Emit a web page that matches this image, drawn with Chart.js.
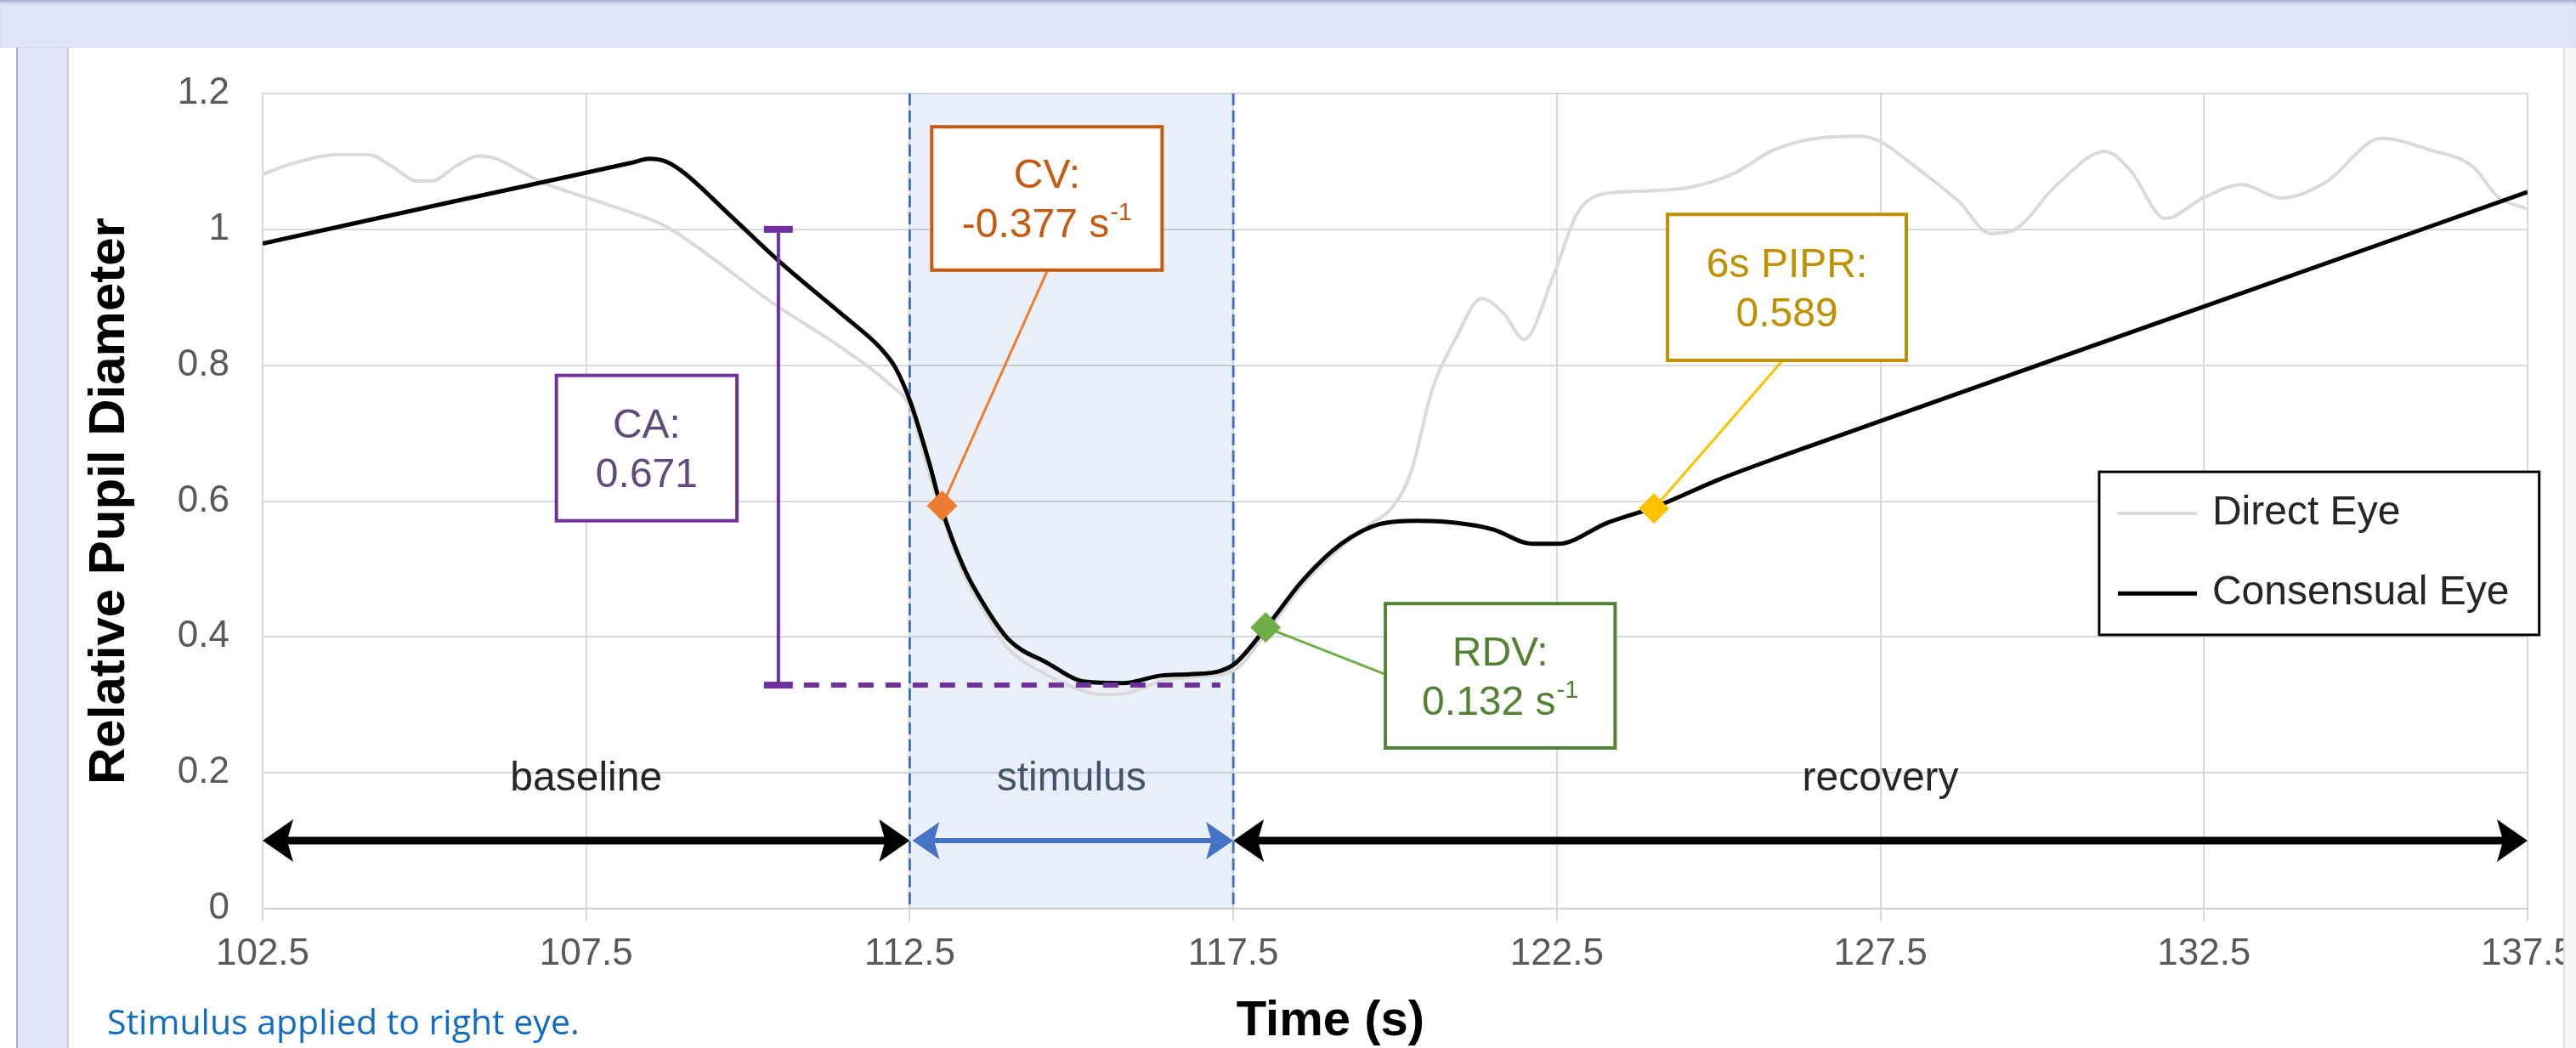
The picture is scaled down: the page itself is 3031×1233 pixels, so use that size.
<!DOCTYPE html>
<html>
<head>
<meta charset="utf-8">
<script src="https://cdn.jsdelivr.net/npm/chart.js@4.4.1/dist/chart.umd.min.js"></script>
<style>
  html, body { margin: 0; padding: 0; background: #ffffff; }
  body { width: 3031px; height: 1233px; position: relative; overflow: hidden; }
  .banda-superior { position: absolute; left: 0; top: 0; width: 3031px; height: 55px; background: #dfe4fa;
    box-shadow: inset 0 5px 4px -3px rgba(80, 90, 130, 0.5); border-bottom: 1px solid #d2d8ef; }
  .franja-izquierda { position: absolute; left: 19px; top: 56px; width: 58px; height: 1177px; background: #dfe4fa;
    border-left: 2px solid #a9aec4; border-right: 2px solid #c6cbde; }
  .borde-derecho { position: absolute; left: 3016px; top: 56px; width: 15px; height: 1177px; background: #f6f6f6;
    border-left: 2px solid #dedede; z-index: 2; }
  #grafico { position: absolute; left: 0; top: 0; z-index: 1; }
  .nota { position: absolute; left: 126px; top: 1181px; font: 41px/41px "Open Sans", sans-serif; color: #116dc4;
    z-index: 3; white-space: nowrap; }
</style>
</head>
<body>
<div class="banda-superior"></div>
<div class="franja-izquierda"></div>
<canvas id="grafico" width="3031" height="1233"></canvas>
<div class="borde-derecho"></div>
<div class="nota">Stimulus applied to right eye.</div>
<script>
// Valores (tiempo en s, diámetro relativo)
const tiempoDirecto = [102.5, 102.93, 103.68, 104.14, 104.51, 104.89, 105.11, 105.5, 105.84, 106.1, 106.5, 106.8,
  107.4, 108.1, 108.74, 109.26, 110.39, 111.52, 112.2, 112.51, 112.8, 113.3, 113.7, 114.0, 114.6, 115.2, 115.5,
  115.9, 116.4, 117.0, 117.5, 118.0, 118.6, 119.2, 119.6, 119.94, 120.24, 120.58, 120.93, 121.34, 121.69, 121.99,
  122.46, 122.8, 123.13, 123.72, 124.56, 125.25, 125.85, 126.6, 127.2, 127.5, 128.11, 128.71, 129.2, 129.54,
  130.23, 130.97, 131.36, 131.9, 132.48, 133.09, 133.69, 134.39, 135.24, 135.99, 136.66, 137.04, 137.5];
const diametroDirecto = [1.081, 1.096, 1.11, 1.11, 1.092, 1.071, 1.071, 1.094, 1.108, 1.104, 1.085, 1.07,
  1.05, 1.028, 1.004, 0.971, 0.891, 0.821, 0.771, 0.737, 0.64, 0.5, 0.43, 0.385, 0.345, 0.32, 0.315,
  0.318, 0.335, 0.342, 0.35, 0.405, 0.48, 0.535, 0.565, 0.589, 0.641, 0.766, 0.838, 0.898, 0.875, 0.838,
  0.935, 1.021, 1.05, 1.056, 1.062, 1.083, 1.117, 1.135, 1.137, 1.129, 1.087, 1.041, 0.994, 0.998,
  1.066, 1.115, 1.087, 1.016, 1.046, 1.066, 1.046, 1.07, 1.134, 1.117, 1.092, 1.048, 1.03];

const tiempoConsensual = [102.5, 105.5, 108.2, 108.47, 108.7, 108.96, 109.72, 110.47, 111.45, 112.05, 112.28,
  112.51, 112.81, 112.98, 113.33, 113.69, 114.04, 114.62, 115.21, 115.79, 116.38, 116.83, 117.3, 117.53, 118.0,
  118.59, 119.17, 119.76, 120.35, 120.93, 121.52, 122.11, 122.52, 123.28, 124.01, 125.04, 126.0, 132.49, 137.5];
const diametroConsensual = [0.979, 1.042, 1.098, 1.104, 1.101, 1.087, 1.021, 0.954, 0.875, 0.825, 0.796,
  0.746, 0.653, 0.593, 0.503, 0.441, 0.395, 0.362, 0.334, 0.332, 0.343, 0.345, 0.35, 0.361, 0.413,
  0.485, 0.537, 0.566, 0.571, 0.568, 0.558, 0.537, 0.537, 0.568, 0.591, 0.633, 0.667, 0.886, 1.055];

const ticksX = [102.5, 107.5, 112.5, 117.5, 122.5, 127.5, 132.5, 137.5];
const ticksY = [0, 0.2, 0.4, 0.6, 0.8, 1, 1.2];

// Fases del registro
const fases = ["baseline", "stimulus", "recovery"];
const faseInicio = [102.5, 112.5, 117.5];
const faseFin = [112.5, 117.5, 137.5];
const estimulo = [112.5, 117.5];

// Métricas marcadas sobre la curva consensual
const metricas = ["CV", "CA", "RDV", "6s PIPR"];
const valoresMetricas = ["-0.377", "0.671", "0.132", "0.589"];
const unidadesMetricas = ["s", "", "s", ""];
const exponentesMetricas = ["-1", "", "-1", ""];
const marcadorT = [113.0, 118.0, 124.0];
const marcadorV = [0.593, 0.414, 0.589];
// Amplitud de constricción: de 1 al mínimo
const caTiempo = 110.47;
const caMax = 1.0;
const caMin = 0.329;
const caFin = 117.3;

const FUENTE = "'Liberation Sans', Arial, sans-serif";

// Posición de cada cuadro de texto en unidades de los ejes
const cajas = [
  { metrica: 0, t0: 112.84, t1: 116.4, v0: 1.151, v1: 0.94, borde: "#c55a11", texto: "#c55a11",
    guia: "#ed7d31", desde: [114.63, 0.94], marcador: 0 },
  { metrica: 1, t0: 107.04, t1: 109.83, v0: 0.785, v1: 0.571, borde: "#7030a0", texto: "#604a7b" },
  { metrica: 2, t0: 119.85, t1: 123.4, v0: 0.449, v1: 0.2365, borde: "#548235", texto: "#548235",
    guia: "#70ad47", desde: [119.85, 0.345], marcador: 1 },
  { metrica: 3, t0: 124.21, t1: 127.9, v0: 1.022, v1: 0.807, borde: "#bf9000", texto: "#bf9000",
    guia: "#ffc000", desde: [125.99, 0.807], marcador: 2 },
];
const coloresMarcador = ["#ed7d31", "#70ad47", "#ffc000"];

// Leyenda dibujada dentro del área del gráfico
const leyendaCaja = { t0: 130.88, t1: 137.68, v0: 0.643, v1: 0.403, filas: [0.582, 0.464] };

function puntos(ts, vs) {
  return ts.map((t, i) => ({ x: t, y: vs[i] }));
}

function flecha(ctx, x0, x1, yy, color, grosor, largo, medio) {
  ctx.strokeStyle = color;
  ctx.fillStyle = color;
  ctx.lineWidth = grosor;
  ctx.beginPath();
  ctx.moveTo(x0 + largo * 0.7, yy);
  ctx.lineTo(x1 - largo * 0.7, yy);
  ctx.stroke();
  ctx.beginPath();
  ctx.moveTo(x0, yy);
  ctx.lineTo(x0 + largo, yy - medio);
  ctx.lineTo(x0 + largo * 0.8, yy);
  ctx.lineTo(x0 + largo, yy + medio);
  ctx.closePath();
  ctx.fill();
  ctx.beginPath();
  ctx.moveTo(x1, yy);
  ctx.lineTo(x1 - largo, yy - medio);
  ctx.lineTo(x1 - largo * 0.8, yy);
  ctx.lineTo(x1 - largo, yy + medio);
  ctx.closePath();
  ctx.fill();
}

// Texto con exponente opcional, centrado en cx
function textoConExponente(ctx, texto, exponente, cx, cy, tam) {
  const tamExp = Math.round(tam * 0.6);
  ctx.textBaseline = "middle";
  ctx.font = `${tam}px ${FUENTE}`;
  const wBase = ctx.measureText(texto).width;
  ctx.font = `${tamExp}px ${FUENTE}`;
  const wExp = exponente ? ctx.measureText(exponente).width + 1 : 0;
  const inicio = cx - (wBase + wExp) / 2;
  ctx.textAlign = "left";
  ctx.font = `${tam}px ${FUENTE}`;
  ctx.fillText(texto, inicio, cy);
  if (exponente) {
    ctx.font = `${tamExp}px ${FUENTE}`;
    ctx.fillText(exponente, inicio + wBase + 1, cy - tam * 0.3);
  }
}

const anotaciones = {
  id: "anotaciones",
  beforeDatasetsDraw(chart) {
    const { ctx, chartArea, scales: { x, y } } = chart;
    ctx.save();
    // Banda del estímulo, translúcida para que se vea la rejilla
    const e0 = x.getPixelForValue(estimulo[0]);
    const e1 = x.getPixelForValue(estimulo[1]);
    ctx.fillStyle = "rgba(68, 114, 196, 0.11)";
    ctx.fillRect(e0, chartArea.top, e1 - e0, chartArea.bottom - chartArea.top);
    ctx.strokeStyle = "#4472c4";
    ctx.lineWidth = 3;
    ctx.setLineDash([14, 6]);
    [e0, e1].forEach((px) => {
      ctx.beginPath();
      ctx.moveTo(px, chartArea.top);
      ctx.lineTo(px, chartArea.bottom);
      ctx.stroke();
    });
    ctx.setLineDash([]);

    // Líneas guía de los cuadros a los marcadores
    cajas.forEach((c) => {
      if (!c.guia) return;
      ctx.strokeStyle = c.guia;
      ctx.lineWidth = 3;
      ctx.beginPath();
      ctx.moveTo(x.getPixelForValue(c.desde[0]), y.getPixelForValue(c.desde[1]));
      ctx.lineTo(x.getPixelForValue(marcadorT[c.marcador]), y.getPixelForValue(marcadorV[c.marcador]));
      ctx.stroke();
    });
    ctx.restore();
  },
  afterDatasetsDraw(chart) {
    const { ctx, chartArea, scales: { x, y } } = chart;
    ctx.save();

    // Flechas y nombres de las fases
    const yFlecha = y.getPixelForValue(0.1);
    fases.forEach((nombre, i) => {
      const a = x.getPixelForValue(faseInicio[i]);
      const b = x.getPixelForValue(faseFin[i]);
      const esEstimulo = nombre === "stimulus";
      if (esEstimulo) flecha(ctx, a + 3, b, yFlecha, "#4472c4", 6, 32, 22);
      else flecha(ctx, a, b, yFlecha, "#000000", 9, 36, 25);
      ctx.fillStyle = esEstimulo ? "#44546a" : "#262626";
      ctx.font = `48px ${FUENTE}`;
      ctx.textAlign = "center";
      ctx.textBaseline = "middle";
      ctx.fillText(nombre, (a + b) / 2, y.getPixelForValue(0.19));
    });

    // Barra de la amplitud CA
    const xCa = x.getPixelForValue(caTiempo);
    const yTop = y.getPixelForValue(caMax);
    const yBot = y.getPixelForValue(caMin);
    ctx.strokeStyle = "#7030a0";
    ctx.fillStyle = "#7030a0";
    ctx.lineWidth = 4;
    ctx.beginPath();
    ctx.moveTo(xCa, yTop);
    ctx.lineTo(xCa, yBot);
    ctx.stroke();
    ctx.fillRect(xCa - 17, yTop - 4, 34, 8);
    ctx.fillRect(xCa - 17, yBot - 4, 34, 8);
    ctx.lineWidth = 6;
    ctx.setLineDash([18, 14]);
    ctx.beginPath();
    ctx.moveTo(xCa + 30, yBot);
    ctx.lineTo(x.getPixelForValue(caFin), yBot);
    ctx.stroke();
    ctx.setLineDash([]);

    // Cuadros con el valor de cada métrica
    cajas.forEach((c) => {
      const l = x.getPixelForValue(c.t0);
      const r = x.getPixelForValue(c.t1);
      const t = y.getPixelForValue(c.v0);
      const b = y.getPixelForValue(c.v1);
      ctx.fillStyle = "#ffffff";
      ctx.fillRect(l, t, r - l, b - t);
      ctx.strokeStyle = c.borde;
      ctx.lineWidth = 4;
      ctx.strokeRect(l, t, r - l, b - t);
      ctx.fillStyle = c.texto;
      const cx = (l + r) / 2;
      const i = c.metrica;
      const valor = unidadesMetricas[i] ? `${valoresMetricas[i]} ${unidadesMetricas[i]}` : valoresMetricas[i];
      textoConExponente(ctx, metricas[i] + ":", "", cx, t + (b - t) * 0.35, 48);
      textoConExponente(ctx, valor, exponentesMetricas[i], cx, t + (b - t) * 0.69, 48);
    });
    ctx.restore();

    // Leyenda
    ctx.save();
    const L = x.getPixelForValue(leyendaCaja.t0);
    const R = x.getPixelForValue(leyendaCaja.t1);
    const T = y.getPixelForValue(leyendaCaja.v0);
    const B = y.getPixelForValue(leyendaCaja.v1);
    ctx.fillStyle = "#ffffff";
    ctx.fillRect(L, T, R - L, B - T);
    ctx.strokeStyle = "#000000";
    ctx.lineWidth = 3;
    ctx.strokeRect(L, T, R - L, B - T);
    chart.data.datasets.slice(0, 2).forEach((ds, i) => {
      const fy = y.getPixelForValue(leyendaCaja.filas[i]);
      ctx.strokeStyle = ds.borderColor;
      ctx.lineWidth = ds.borderWidth;
      ctx.beginPath();
      ctx.moveTo(L + 22, fy);
      ctx.lineTo(L + 115, fy);
      ctx.stroke();
      ctx.fillStyle = "#262626";
      ctx.font = `48px ${FUENTE}`;
      ctx.textAlign = "left";
      ctx.textBaseline = "middle";
      ctx.fillText(ds.label, L + 133, fy);
    });

    // Título del eje X (centrado en el ancho completo de la figura)
    ctx.fillStyle = "#000000";
    ctx.font = `bold 58px ${FUENTE}`;
    ctx.textAlign = "center";
    ctx.textBaseline = "middle";
    ctx.fillText("Time (s)", x.getPixelForValue(119.0), chartArea.bottom + 133);
    ctx.restore();
  },
};

const ctx = document.getElementById("grafico").getContext("2d");
new Chart(ctx, {
  type: "scatter",
  data: {
    datasets: [
      {
        label: "Direct Eye",
        data: puntos(tiempoDirecto, diametroDirecto),
        showLine: true,
        borderColor: "#dadada",
        borderWidth: 4,
        pointRadius: 0,
        cubicInterpolationMode: "monotone",
        order: 3,
      },
      {
        label: "Consensual Eye",
        data: puntos(tiempoConsensual, diametroConsensual),
        showLine: true,
        borderColor: "#000000",
        borderWidth: 5,
        pointRadius: 0,
        cubicInterpolationMode: "monotone",
        order: 2,
      },
      {
        label: "marcadores",
        data: puntos(marcadorT, marcadorV),
        pointStyle: "rectRot",
        pointRadius: 18,
        pointBackgroundColor: coloresMarcador,
        pointBorderWidth: 0,
        order: 1,
      },
    ],
  },
  options: {
    responsive: false,
    devicePixelRatio: 1,
    animation: false,
    layout: { padding: { left: 0, top: 110, right: 57, bottom: 74 } },
    plugins: {
      legend: { display: false },
      tooltip: { enabled: false },
    },
    scales: {
      x: {
        type: "linear",
        min: 102.5,
        max: 137.5,
        afterBuildTicks: (s) => { s.ticks = ticksX.map((v) => ({ value: v })); },
        afterFit: (s) => { s.height = 90; s.paddingLeft = 0; s.paddingRight = 0; },
        ticks: {
          callback: (v) => v.toFixed(1),
          font: { family: FUENTE, size: 44 },
          color: "#595959",
          padding: 12,
          maxRotation: 0,
        },
        grid: { color: "#d9d9d9", lineWidth: 2, drawTicks: true, tickLength: 15, tickColor: "#d9d9d9" },
        border: { color: "#d0d0d0", width: 2 },
      },
      y: {
        min: 0,
        max: 1.2,
        afterBuildTicks: (s) => { s.ticks = ticksY.map((v) => ({ value: v })); },
        afterFit: (s) => { s.width = 309; s.paddingTop = 0; s.paddingBottom = 0; },
        ticks: {
          callback: (v) => String(Math.round(v * 10) / 10),
          font: { family: FUENTE, size: 44 },
          color: "#595959",
          padding: 39,
        },
        grid: { color: "#d9d9d9", lineWidth: 2, drawTicks: false },
        border: { color: "#d9d9d9", width: 2 },
        title: {
          display: true,
          text: "Relative Pupil Diameter",
          font: { family: FUENTE, size: 60, weight: "bold" },
          color: "#000000",
          padding: { top: 93, bottom: 0 },
        },
      },
    },
  },
  plugins: [anotaciones],
});
</script>
</body>
</html>
